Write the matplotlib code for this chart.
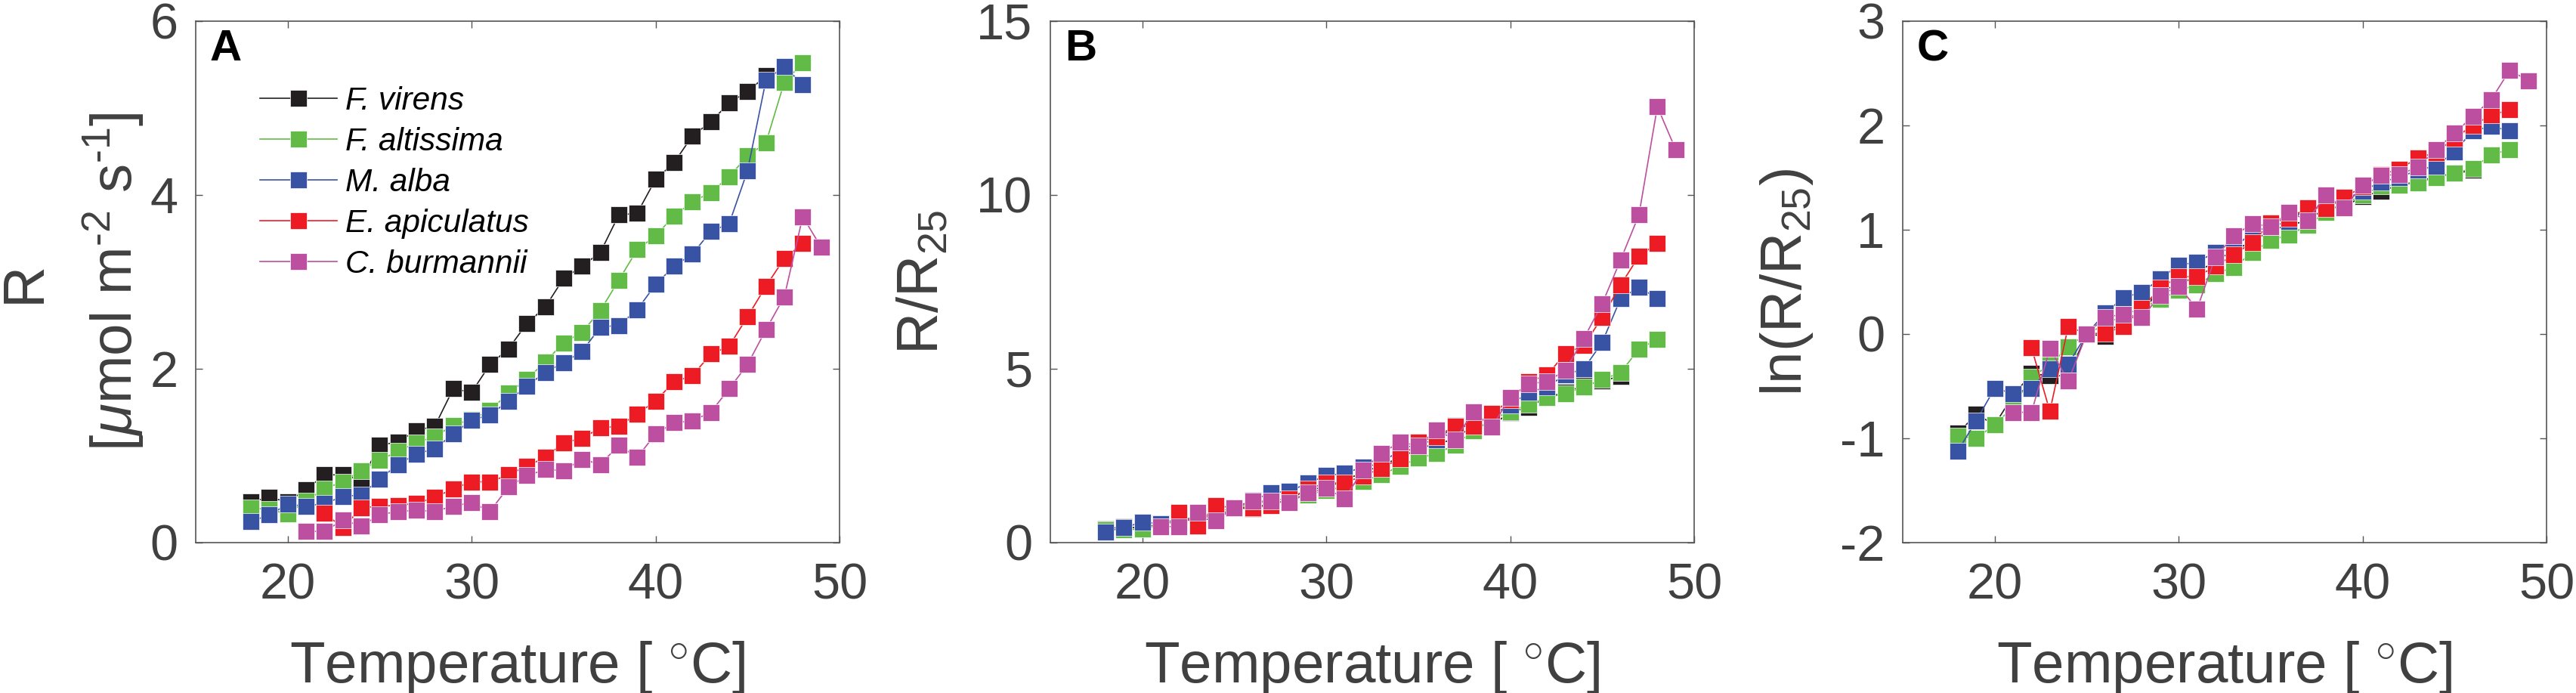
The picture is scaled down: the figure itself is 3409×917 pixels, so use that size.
import numpy as np
import matplotlib
matplotlib.use('Agg')
import matplotlib.pyplot as plt

plt.rcParams['font.family'] = ['Liberation Sans', 'DejaVu Sans']
plt.rcParams['mathtext.fontset'] = 'custom'
plt.rcParams['mathtext.rm'] = 'Liberation Sans'
plt.rcParams['mathtext.it'] = 'Liberation Sans:italic'
plt.rcParams['axes.unicode_minus'] = False

species = ['F. virens', 'F. altissima', 'M. alba', 'E. apiculatus', 'C. burmannii']
colors = ['#231f20', '#62bb46', '#3953a4', '#ed1c24', '#bc4f9f']

# temperatures per species
T_vir = list(range(18, 47))
T_alt = list(range(18, 49))
T_alb = list(range(18, 49))
T_api = list(range(22, 49))
T_bur = list(range(21, 50))

# panel A: R [umol m-2 s-1]
R_vir = [0.47, 0.52, 0.47, 0.61, 0.78, 0.78, 0.72, 1.12, 1.16, 1.29, 1.34, 1.77, 1.73, 2.05, 2.23,
         2.52, 2.71, 3.04, 3.18, 3.34, 3.77, 3.79, 4.18, 4.37, 4.68, 4.84, 5.06, 5.19, 5.37]
R_alt = [0.40, 0.38, 0.33, 0.48, 0.62, 0.70, 0.83, 0.95, 1.05, 1.15, 1.22, 1.35, 1.42, 1.52, 1.72,
         1.88, 2.08, 2.30, 2.42, 2.67, 3.02, 3.37, 3.53, 3.76, 3.92, 4.03, 4.21, 4.45, 4.60, 5.30, 5.52]
R_alb = [0.24, 0.32, 0.44, 0.42, 0.45, 0.53, 0.55, 0.73, 0.90, 1.02, 1.08, 1.25, 1.41, 1.47, 1.63,
         1.80, 1.96, 2.07, 2.20, 2.48, 2.50, 2.68, 2.97, 3.18, 3.32, 3.58, 3.67, 4.28, 5.32, 5.48, 5.27]
R_api = [0.34, 0.17, 0.40, 0.42, 0.43, 0.45, 0.52, 0.62, 0.70, 0.70, 0.78, 0.88, 0.98, 1.15, 1.20,
         1.32, 1.34, 1.48, 1.63, 1.85, 1.92, 2.17, 2.26, 2.60, 2.95, 3.27, 3.44]
R_bur = [0.13, 0.13, 0.26, 0.19, 0.32, 0.36, 0.37, 0.36, 0.42, 0.46, 0.36, 0.64, 0.77, 0.84, 0.83,
         0.96, 0.90, 1.12, 0.98, 1.25, 1.38, 1.40, 1.50, 1.77, 2.05, 2.45, 2.83, 3.75, 3.40]

# panel B: R/R25
N_vir = [0.40, 0.45, 0.42, 0.55, 0.68, 0.67, 0.67, 1.00, 0.98, 1.15, 1.20, 1.58, 1.54, 1.83, 1.99,
         2.25, 2.42, 2.71, 2.84, 2.98, 3.37, 3.38, 3.74, 3.90, 4.18, 4.32, 4.52, 4.65, 4.79]
N_alt = [0.38, 0.36, 0.40, 0.50, 0.66, 0.74, 0.89, 1.00, 1.10, 1.20, 1.28, 1.37, 1.51, 1.60, 1.76,
         1.96, 2.19, 2.43, 2.56, 2.81, 3.21, 3.55, 3.77, 3.98, 4.17, 4.29, 4.47, 4.69, 4.89, 5.57, 5.85]
N_alb = [0.31, 0.44, 0.58, 0.55, 0.59, 0.72, 0.75, 1.00, 1.22, 1.43, 1.48, 1.71, 1.93, 1.99, 2.18,
         2.27, 2.68, 2.84, 2.95, 3.36, 3.40, 3.67, 3.96, 4.32, 4.48, 4.83, 5.00, 5.76, 7.02, 7.35, 7.02]
N_api = [0.86, 0.47, 1.06, 1.00, 1.01, 1.06, 1.26, 1.55, 1.71, 1.72, 1.92, 2.14, 2.42, 2.89, 3.05,
         3.35, 3.34, 3.71, 4.10, 4.63, 4.82, 5.44, 5.67, 6.48, 7.41, 8.24, 8.61]
N_bur = [0.46, 0.46, 0.86, 0.63, 1.00, 1.19, 1.19, 1.16, 1.43, 1.56, 1.27, 2.09, 2.57, 2.89, 2.79,
         3.24, 2.96, 3.76, 3.33, 4.17, 4.57, 4.63, 4.96, 5.87, 6.87, 8.13, 9.43, 12.54, 11.30]

# panel C: ln(R/R25)
L_vir = [-0.95, -0.77, -0.87, -0.59, -0.38, -0.40, -0.40, 0.00, -0.02, 0.14, 0.18, 0.46, 0.43, 0.60, 0.69,
         0.81, 0.88, 1.00, 1.04, 1.09, 1.21, 1.22, 1.32, 1.37, 1.43, 1.46, 1.51, 1.54, 1.57]
L_alt = [-0.98, -1.00, -0.87, -0.70, -0.41, -0.30, -0.12, 0.00, 0.09, 0.18, 0.25, 0.33, 0.42, 0.47, 0.58,
         0.64, 0.78, 0.90, 0.95, 1.04, 1.17, 1.25, 1.33, 1.42, 1.43, 1.45, 1.50, 1.54, 1.59, 1.72, 1.77]
L_alb = [-1.12, -0.83, -0.52, -0.57, -0.52, -0.33, -0.29, 0.00, 0.20, 0.35, 0.40, 0.53, 0.66, 0.69, 0.785,
         0.82, 0.98, 1.03, 1.08, 1.21, 1.22, 1.29, 1.37, 1.46, 1.50, 1.575, 1.61, 1.75, 1.95, 1.99, 1.95]
L_api = [-0.13, -0.74, 0.075, 0.00, 0.01, 0.07, 0.25, 0.44, 0.55, 0.55, 0.65, 0.76, 0.88, 1.065, 1.11,
         1.21, 1.205, 1.31, 1.41, 1.53, 1.58, 1.69, 1.74, 1.88, 2.00, 2.10, 2.15]
L_bur = [-0.75, -0.75, -0.14, -0.45, 0.00, 0.16, 0.19, 0.16, 0.37, 0.46, 0.24, 0.74, 0.94, 1.06, 1.03,
         1.17, 1.09, 1.33, 1.21, 1.425, 1.52, 1.53, 1.60, 1.77, 1.925, 2.09, 2.25, 2.53, 2.43]

temps = [T_vir, T_alt, T_alb, T_api, T_bur]
panels = [
    ([R_vir, R_alt, R_alb, R_api, R_bur], (0, 6), [0, 2, 4, 6], 'A'),
    ([N_vir, N_alt, N_alb, N_api, N_bur], (0, 15), [0, 5, 10, 15], 'B'),
    ([L_vir, L_alt, L_alb, L_api, L_bur], (-2, 3), [-2, -1, 0, 1, 2, 3], 'C'),
]

W, H = 3409, 917
fig = plt.figure(figsize=(W / 100, H / 100), dpi=100)
lefts = [259, 1390, 2518]
gray = '#404040'

axes = []
for (vals, ylim, yticks, letter), left in zip(panels, lefts):
    ax = fig.add_axes([left / W, (H - 718) / H, 852 / W, 690 / H])
    for T, y, c, name in zip(temps, vals, colors, species):
        ax.plot(T, y, '-s', color=c, lw=1.2, ms=16.2, mfc=c, mec='white', mew=0.5,
                label=name)
    ax.set_xlim(15, 50)
    ax.set_ylim(*ylim)
    ax.set_xticks([20, 30, 40, 50])
    ax.set_yticks(yticks)
    ax.tick_params(direction='in', length=6.5, width=1, colors='#555555',
                   labelcolor=gray, labelsize=48, top=True, right=True)
    ax.tick_params(axis='x', pad=19)
    ax.tick_params(axis='y', pad=17)
    for sp in ax.spines.values():
        sp.set_color('#555555')
        sp.set_linewidth(1.2)
    ax.text(0.022, 0.985, letter, transform=ax.transAxes, ha='left', va='top',
            fontsize=42, fontweight='bold', color='black')
    ax.text(0.5, -0.268, 'Temperature [ $^{\\circ}$C]', transform=ax.transAxes,
            ha='center', va='baseline', fontsize=55, color=gray)
    axes.append(ax)

axA, axB, axC = axes
axA.text(-0.265, 0.5, 'R', transform=axA.transAxes, rotation=90,
         ha='center', va='center', fontsize=55, color=gray)
axA.text(-0.128, 0.5, '[$\\mu$mol m$^{\u20102}$ s$^{\u20101}$]', transform=axA.transAxes,
         rotation=90, ha='center', va='center', fontsize=55, color=gray)
axB.text(-0.197, 0.5, 'R/R$_{25}$', transform=axB.transAxes, rotation=90,
         ha='center', va='center', fontsize=55, color=gray)
axC.text(-0.18, 0.5, 'ln(R/R$_{25}$)', transform=axC.transAxes, rotation=90,
         ha='center', va='center', fontsize=55, color=gray)

leg = axA.legend(loc='upper left', bbox_to_anchor=(0.10, 0.875), frameon=False,
                 prop={'style': 'italic', 'size': 30.5}, handlelength=2.4,
                 handletextpad=0.26, labelspacing=0.33, borderpad=0, borderaxespad=0,
                 numpoints=1)
for t in leg.get_texts():
    t.set_color('black')

fig.savefig('out.png', dpi=100)
